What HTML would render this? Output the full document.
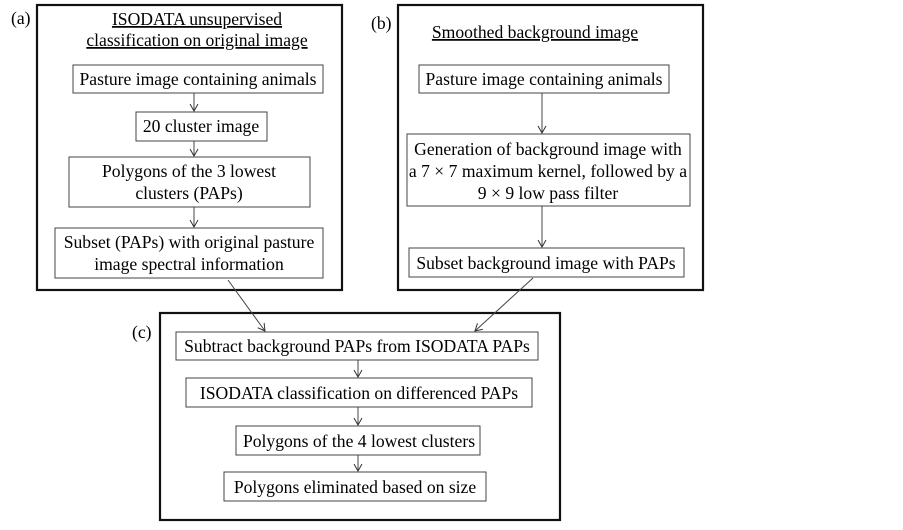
<!DOCTYPE html>
<html><head><meta charset="utf-8"><style>
body{margin:0;background:#fff;}
</style></head><body>
<svg width="903" height="525" xmlns="http://www.w3.org/2000/svg" font-family="Liberation Serif, serif" font-size="17.6" fill="#000">
<defs><marker id="ar" markerWidth="10" markerHeight="10" refX="8" refY="5" orient="auto" markerUnits="userSpaceOnUse"><path d="M1,1 L8,5 L1,9" fill="none" stroke="#333" stroke-width="1"/></marker></defs>
<g fill="none" stroke="#111" stroke-width="2.2">
<rect x="37" y="5" width="305" height="285"/>
<rect x="398" y="5" width="305" height="285"/>
<rect x="160" y="313" width="400" height="207"/>
</g>
<g fill="#fff" stroke="#444" stroke-width="1">
<rect x="73" y="65" width="250" height="28"/>
<rect x="136" y="112" width="131" height="29"/>
<rect x="69" y="157" width="241" height="50"/>
<rect x="55" y="228" width="268" height="50"/>
<rect x="419" y="65" width="250" height="28"/>
<rect x="407" y="134" width="283" height="72"/>
<rect x="409" y="248" width="275" height="29"/>
<rect x="176" y="332" width="362" height="28"/>
<rect x="186" y="378" width="346" height="29"/>
<rect x="236" y="426" width="244" height="29"/>
<rect x="224" y="472" width="262" height="29"/>
</g>
<g stroke="#444" stroke-width="1" marker-end="url(#ar)">
<line x1="194" y1="93" x2="194" y2="111"/>
<line x1="194" y1="141" x2="194" y2="156"/>
<line x1="194" y1="207" x2="194" y2="227"/>
<line x1="542" y1="93" x2="542" y2="133"/>
<line x1="542" y1="206" x2="542" y2="247"/>
<line x1="228" y1="280" x2="265" y2="331"/>
<line x1="533" y1="278" x2="475" y2="331"/>
<line x1="358" y1="360" x2="358" y2="377"/>
<line x1="358" y1="407" x2="358" y2="425"/>
<line x1="358" y1="455" x2="358" y2="471"/>
</g>
<g text-anchor="middle">
<text x="197" y="25" text-decoration="underline">ISODATA unsupervised</text>
<text x="197" y="46" text-decoration="underline">classification on original image</text>
<text x="198" y="85">Pasture image containing animals</text>
<text x="201" y="132">20 cluster image</text>
<text x="189" y="177">Polygons of the 3 lowest</text>
<text x="189" y="199">clusters (PAPs)</text>
<text x="189" y="248">Subset (PAPs) with original pasture</text>
<text x="189" y="270">image spectral information</text>
<text x="535" y="38" text-decoration="underline">Smoothed background image</text>
<text x="544" y="85">Pasture image containing animals</text>
<text x="548" y="155">Generation of background image with</text>
<text x="548" y="177">a 7 × 7 maximum kernel, followed by a</text>
<text x="548" y="199">9 × 9 low pass filter</text>
<text x="546" y="269">Subset background image with PAPs</text>
<text x="357" y="352">Subtract background PAPs from ISODATA PAPs</text>
<text x="359" y="399">ISODATA classification on differenced PAPs</text>
<text x="359" y="447">Polygons of the 4 lowest clusters</text>
<text x="355" y="493">Polygons eliminated based on size</text>
</g>
<text x="11" y="24">(a)</text>
<text x="371" y="29">(b)</text>
<text x="132" y="338">(c)</text>
</svg>
</body></html>
